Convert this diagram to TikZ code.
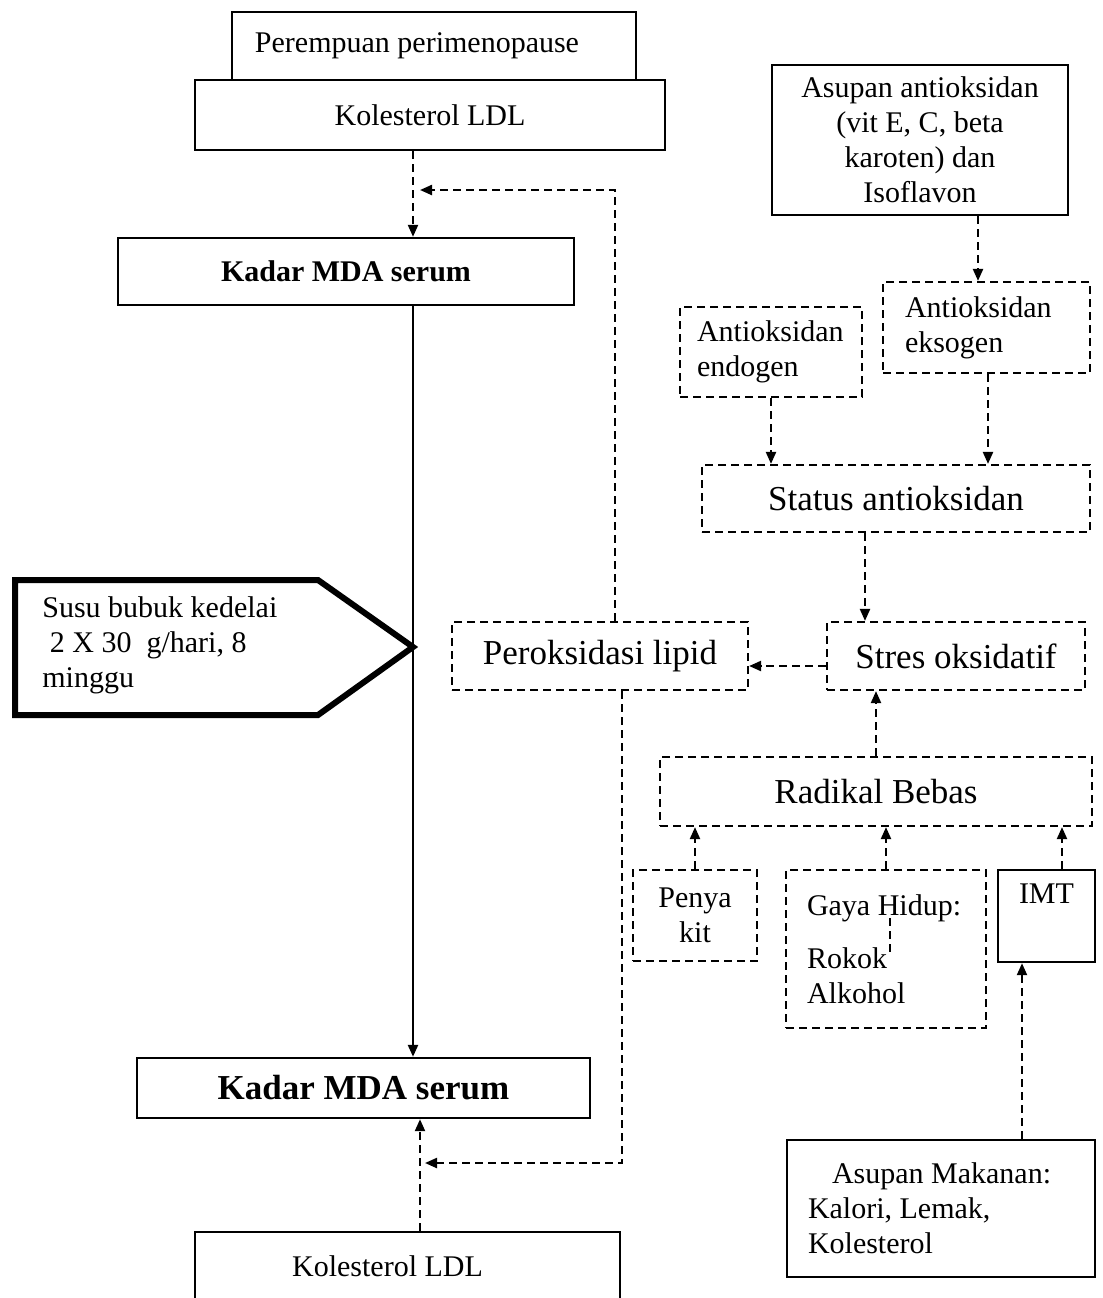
\documentclass[tikz,border=0pt]{standalone}
\usepackage{fontspec}
\setmainfont{Liberation Serif}
\usetikzlibrary{arrows.meta,positioning,calc}

\begin{document}
\begin{tikzpicture}[
  x=0.5pt, y=-0.5pt,
  txt/.style={font=\fontsize{15}{17.5}\selectfont},
  bigtxt/.style={font=\fontsize{17.5}{20}\selectfont},
  solidbox/.style={draw, line width=1.2pt, inner sep=0pt, align=center, txt},
  dashbox/.style={draw, line width=1.1pt, dash pattern=on 4pt off 2.5pt, inner sep=0pt, align=center, txt},
  leftbox/.style={align=flush left, anchor=center},
  dashline/.style={line width=1.1pt, dash pattern=on 4pt off 2.5pt},
  arr/.style={-{Triangle[length=6pt,width=5pt]}, line width=1.1pt},
  dasharr/.style={arr, dashline},
]
  \clip (0,0) rectangle (1103,1298);

  % Left column: subjects and outcome
  \node[solidbox, minimum width=202pt, minimum height=34pt] (peri) at (434,46) {Perempuan perimenopause\hspace*{17pt}};
  \node[solidbox, minimum width=235pt, minimum height=35pt] (ldlA) at (430,115) {Kolesterol LDL};
  \node[solidbox, minimum width=228pt, minimum height=33.5pt, font=\fontsize{15}{17.5}\selectfont\bfseries] (mdaA) at (346,271.5) {Kadar MDA serum};
  \node[solidbox, minimum width=226.5pt, minimum height=30pt, font=\fontsize{17.5}{20}\selectfont\bfseries] (mdaB) at (363.5,1088) {Kadar MDA serum};
  \node[solidbox, minimum width=212.5pt, minimum height=34pt] (ldlB) at (407.5,1266) {Kolesterol LDL\hspace*{20pt}};

  % Intervention
  \draw[line width=3pt, line join=miter] (15,580) -- (318,580) -- (413,647) -- (318,715) -- (15,715) -- cycle;
  \node[txt, align=flush left, anchor=west, inner sep=0pt] (susu) at (42,645) {Susu bubuk kedelai\\\ 2 X 30\ \ g/hari, 8\\minggu};

  % Right side: antioxidants
  \node[solidbox, minimum width=148pt, minimum height=75pt] (asup) at (920,140) {Asupan antioksidan\\(vit E, C, beta\\karoten) dan\\Isoflavon};
  \node[dashbox, leftbox, inner xsep=11pt, text width=81.5pt, minimum height=45.5pt] (exo) at (986.5,327.5) {Antioksidan\\eksogen};
  \node[dashbox, leftbox, inner xsep=8.5pt, text width=74pt, minimum height=45pt] (endo) at (771,352) {Antioksidan\\endogen};
  \node[dashbox, bigtxt, minimum width=194pt, minimum height=33.5pt] (status) at (896,498.5) {Status antioksidan};
  \node[dashbox, bigtxt, minimum width=129pt, minimum height=34pt] (stres) at (956,656) {Stres oksidatif};
  \node[dashbox, bigtxt, minimum width=148pt, minimum height=34pt] (perok) at (600,656) {Peroksidasi lipid};
  \node[dashbox, bigtxt, minimum width=216pt, minimum height=34.5pt] (radikal) at (876,791.5) {Radikal Bebas};

  % Sources of free radicals
  \node[dashbox, minimum width=62pt, minimum height=45.5pt] (penyakit) at (695,915.5) {Penya\\kit};
  \node[dashbox, leftbox, inner xsep=10.5pt, text width=79pt, minimum height=79pt] (gaya) at (886,949) {Gaya Hidup:\\[9pt]Rokok\\Alkohol};
  \node[solidbox, minimum width=48.5pt, minimum height=46pt] (imt) at (1046.5,916) {IMT\\\strut};
  \node[solidbox, leftbox, inner xsep=10.5pt, text width=133pt, minimum height=68.5pt] (makan) at (941,1208.5) {\hspace*{12pt}Asupan Makanan:\\Kalori, Lemak,\\Kolesterol};
  \draw[dashline] (890,918) -- (890,955);

  % Main axis
  \coordinate (mid) at (413,0);
  \coordinate (midB) at (420,0);
  \coordinate (fbUp) at (420,190);
  \coordinate (fbDown) at (425,1163);

  % Arrows
  \draw[dasharr] (ldlA.south -| mid) -- (mdaA.north -| mid);
  \draw[arr, line width=1.2pt] (mdaA.south -| mid) -- (mdaB.north -| mid);
  \draw[dasharr] (ldlB.north -| midB) -- (mdaB.south -| midB);
  \draw[dasharr] ([xshift=7.5pt]perok.north) |- (fbUp);
  \draw[dasharr] ([xshift=11pt]perok.south) |- (fbDown);
  \draw[dasharr] ([xshift=29pt]asup.south) -- ([xshift=29pt]asup.south |- exo.north);
  \draw[dasharr] (endo.south) -- (endo.south |- status.north);
  \draw[dasharr] ([xshift=0.75pt]exo.south) -- ([xshift=0.75pt]exo.south |- status.north);
  \draw[dasharr] ([xshift=-15.5pt]status.south) -- ([xshift=-15.5pt]status.south |- stres.north);
  \draw[dasharr] ([yshift=-5pt]stres.west) -- ([yshift=-5pt]perok.east);
  \draw[dasharr] (radikal.north) -- (radikal.north |- stres.south);
  \draw[dasharr] (penyakit.north) -- (penyakit.north |- radikal.south);
  \draw[dasharr] (gaya.north) -- (gaya.north |- radikal.south);
  \draw[dasharr] ([xshift=7.75pt]imt.north) -- ([xshift=7.75pt]imt.north |- radikal.south);
  \draw[dasharr] ([xshift=40.5pt]makan.north) -- ([xshift=40.5pt]makan.north |- imt.south);
\end{tikzpicture}
\end{document}
